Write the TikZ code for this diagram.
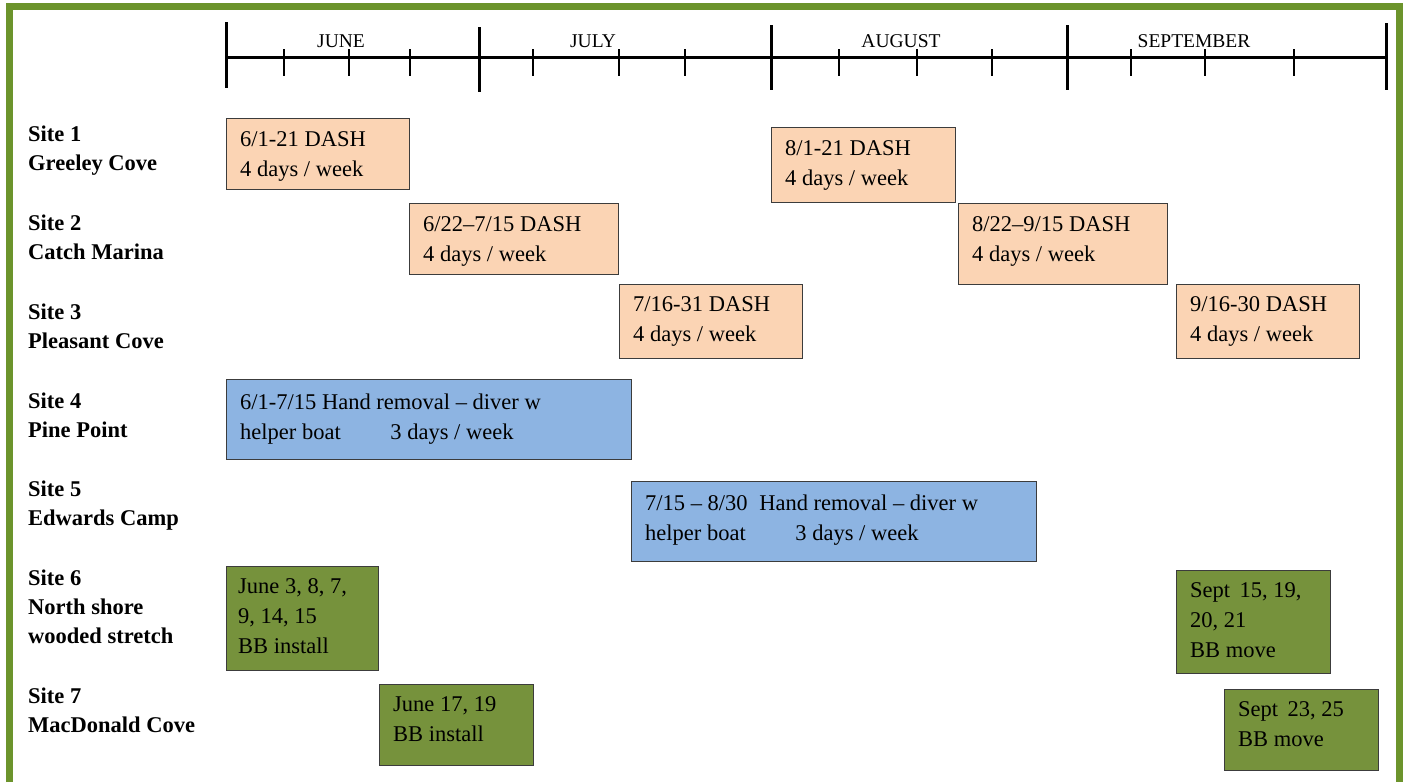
\documentclass[tikz,border=0pt]{standalone}
\usepackage{fontspec}
\setmainfont{Liberation Serif}
\definecolor{peach}{RGB}{251,212,180}
\definecolor{skyblue}{RGB}{141,180,226}
\definecolor{olivebox}{RGB}{118,146,60}
\definecolor{framegreen}{RGB}{108,148,44}
\definecolor{edge}{RGB}{60,60,60}
\begin{document}
\begin{tikzpicture}[x=1pt,y=-1pt,
  bar/.style={draw=edge,line width=1.4pt,anchor=north west,inner sep=0pt},
  dashbox/.style={bar,fill=peach},
  handbox/.style={bar,fill=skyblue},
  bbbox/.style={bar,fill=olivebox},
  boxtext/.style={anchor=north west,inner sep=0pt,align=left,font=\fontsize{22.5}{30}\selectfont,text=black},
  sitelabel/.style={anchor=north west,inner sep=0pt,align=left,font=\bfseries\fontsize{22.5}{29}\selectfont},
  month/.style={inner sep=0pt,font=\fontsize{19.5}{20}\selectfont},
  major/.style={line width=3pt},
  minor/.style={line width=1.3pt}]
\useasboundingbox (0,0) rectangle (1405,782);
% frame
\draw[framegreen,line width=7pt] (9.5,782) -- (9.5,6.5) -- (1399.5,6.5) -- (1399.5,782);

% timeline
\coordinate (tl) at (226,57);
\coordinate (tr) at (1386,57);
\draw[major] (tl) -- (tr);
\foreach \x/\a/\b in {226/22/88,479/27/92,771/25/90,1067/25/90,1386/23/90}
  \draw[major] (\x,\a) -- (\x,\b);
\foreach \x in {284,349,410,533,619,685,839,917,992,1131,1205,1294}
  \draw[minor] (\x,49) -- (\x,76);
\node[month] (mjun) at (341,41) {JUNE};
\node[month] (mjul) at (593,41) {JULY};
\node[month] (maug) at (901,41) {AUGUST};
\node[month] (msep) at (1194,41) {SEPTEMBER};

% site labels
\node[sitelabel] (s1) at (28,126) {Site 1\\Greeley Cove};
\node[sitelabel] (s2) at (28,215) {Site 2\\Catch Marina};
\node[sitelabel] (s3) at (28,304) {Site 3\\Pleasant Cove};
\node[sitelabel] (s4) at (28,393) {Site 4\\Pine Point};
\node[sitelabel] (s5) at (28,481) {Site 5\\Edwards Camp};
\node[sitelabel] (s6) at (28,570) {Site 6\\North shore\\wooded stretch};
\node[sitelabel] (s7) at (28,688) {Site 7\\MacDonald Cove};

% DASH boxes
\node[dashbox,minimum width=183pt,minimum height=71pt] (b1a) at (226,118) {};
\node[boxtext] (t1a) at ([xshift=14pt,yshift=-13pt]b1a.north west) {6/1-21 DASH\\4 days / week};
\node[dashbox,minimum width=184pt,minimum height=75pt] (b1b) at (771,127) {};
\node[boxtext] (t1b) at ([xshift=14pt,yshift=-13pt]b1b.north west) {8/1-21 DASH\\4 days / week};
\node[dashbox,minimum width=209pt,minimum height=71pt] (b2a) at (409,203) {};
\node[boxtext] (t2a) at ([xshift=14pt,yshift=-13pt]b2a.north west) {6/22–7/15 DASH\\4 days / week};
\node[dashbox,minimum width=209pt,minimum height=81pt] (b2b) at (958,203) {};
\node[boxtext] (t2b) at ([xshift=14pt,yshift=-13pt]b2b.north west) {8/22–9/15 DASH\\4 days / week};
\node[dashbox,minimum width=183pt,minimum height=74pt] (b3a) at (619,284) {};
\node[boxtext] (t3a) at ([xshift=14pt,yshift=-12pt]b3a.north west) {7/16-31 DASH\\4 days / week};
\node[dashbox,minimum width=183pt,minimum height=74pt] (b3b) at (1176,284) {};
\node[boxtext] (t3b) at ([xshift=14pt,yshift=-12pt]b3b.north west) {9/16-30 DASH\\4 days / week};

% hand removal boxes
\node[handbox,minimum width=405pt,minimum height=80pt] (b4) at (226,379) {};
\node[boxtext] (t4) at ([xshift=14pt,yshift=-15pt]b4.north west) {6/1-7/15 Hand removal – diver w\\helper boat \hspace{44pt}3 days / week};
\node[handbox,minimum width=405pt,minimum height=80pt] (b5) at (631,481) {};
\node[boxtext] (t5) at ([xshift=14pt,yshift=-14pt]b5.north west) {7/15 – 8/30 \hspace{6pt}Hand removal – diver w\\helper boat \hspace{44pt}3 days / week};

% BB boxes
\node[bbbox,minimum width=152pt,minimum height=104pt] (b6a) at (226,566) {};
\node[boxtext] (t6a) at ([xshift=12pt,yshift=-12pt]b6a.north west) {June 3, 8, 7,\\9, 14, 15\\BB install};
\node[bbbox,minimum width=154pt,minimum height=103pt] (b6b) at (1176,570) {};
\node[boxtext] (t6b) at ([xshift=14pt,yshift=-12pt]b6b.north west) {Sept \,15, 19,\\20, 21\\BB move};
\node[bbbox,minimum width=154pt,minimum height=81pt] (b7a) at (379,684) {};
\node[boxtext] (t7a) at ([xshift=14pt,yshift=-12pt]b7a.north west) {June 17, 19\\BB install};
\node[bbbox,minimum width=154pt,minimum height=81pt] (b7b) at (1224,689) {};
\node[boxtext] (t7b) at ([xshift=14pt,yshift=-12pt]b7b.north west) {Sept \,23, 25\\BB move};
\end{tikzpicture}
\end{document}
